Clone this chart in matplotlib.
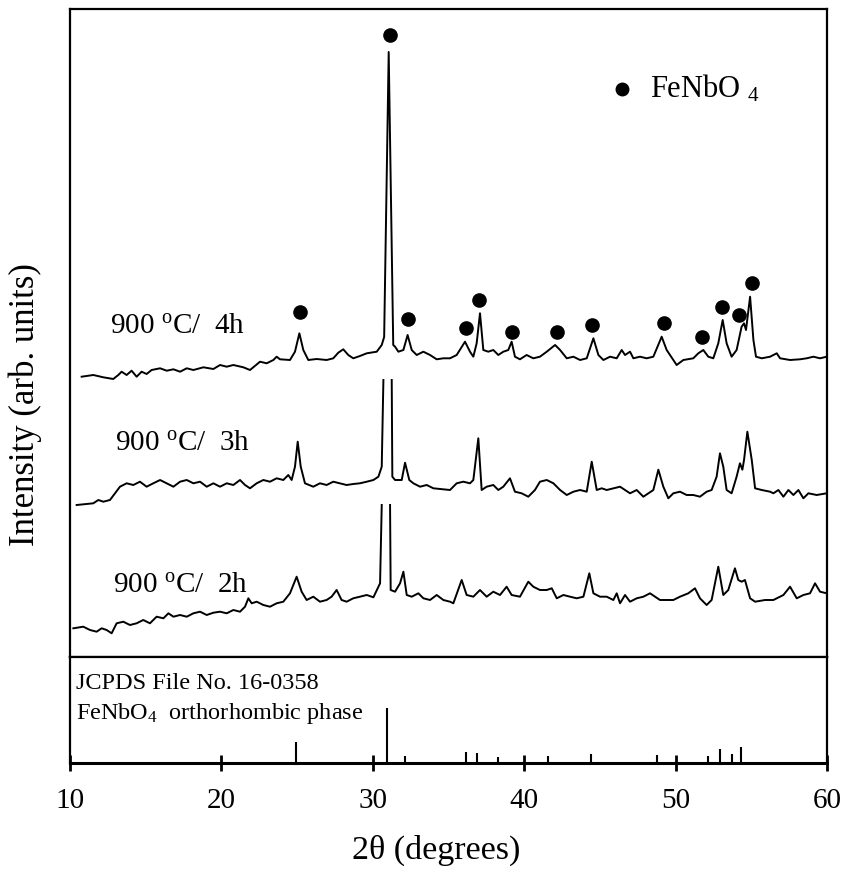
import numpy as np
import matplotlib
matplotlib.use("Agg")
import matplotlib.pyplot as plt

plt.rcParams['font.family'] = ['Liberation Serif', 'DejaVu Serif']
plt.rcParams['mathtext.fontset'] = 'custom'
plt.rcParams['mathtext.rm'] = 'Liberation Serif'
plt.rcParams['mathtext.it'] = 'Liberation Serif:italic'

nan = np.nan

# 900 C / 4h
theta_4h = [10.77, 11.54, 12.2, 12.86, 13.19, 13.41, 13.74, 14.07, 14.4, 14.73, 15.06, 15.39,
            15.95, 16.39, 16.83, 17.27, 17.71, 18.15, 18.81, 19.47, 19.91, 20.35, 20.79, 21.45,
            21.89, 22.55, 22.99, 23.43, 23.65, 23.87, 24.53, 24.86, 25.15, 25.41, 25.74, 26.29,
            26.95, 27.39, 27.72, 28.05, 28.38, 28.71, 29.15, 29.6, 30.26, 30.59, 30.75, 31.05,
            31.35, 31.47, 31.69, 32.02, 32.3, 32.57, 32.9, 33.34, 33.78, 34.22, 34.66, 35.1,
            35.54, 36.09, 36.42, 36.64, 36.86, 37.08, 37.3, 37.63, 37.96, 38.29, 38.62, 38.95,
            39.17, 39.39, 39.72, 40.16, 40.6, 41.04, 41.49, 42.04, 42.37, 42.81, 43.25, 43.69,
            44.13, 44.57, 44.9, 45.23, 45.67, 46.11, 46.44, 46.66, 46.99, 47.21, 47.65, 48.09,
            48.53, 49.08, 49.41, 49.85, 50.07, 50.51, 51.17, 51.5, 51.83, 52.16, 52.49, 52.82,
            53.11, 53.37, 53.7, 54.03, 54.36, 54.52, 54.65, 54.92, 55.14, 55.31, 55.69, 56.24,
            56.68, 56.9, 57.56, 58.22, 58.66, 59.1, 59.54, 59.98]
int_4h = [280.3, 282, 279.7, 278, 282, 285.3, 282, 286.3, 280.3, 285.3, 283, 287,
          288.7, 286.3, 287.7, 285.3, 288.7, 287, 289.7, 288, 292, 290.3, 292, 289.7,
          287, 295.3, 293.7, 297, 300.3, 297.7, 297, 305.3, 323.7, 307, 297, 298,
          297, 298.7, 304.3, 307.7, 302, 298.7, 301, 303.7, 305.3, 312, 320, 605,
          312, 310.3, 305.3, 307, 322, 307, 302, 305.3, 302, 297.7, 298.7, 298.7,
          302, 315.3, 305.3, 300.3, 313.7, 343.7, 307, 305.3, 307, 302, 305.3, 307,
          315.3, 300.3, 297.7, 302, 298.7, 300.3, 305.3, 312, 307, 298.7, 300.3, 297,
          298.7, 318.7, 302, 297, 300.3, 298.7, 307, 302, 305.3, 298.7, 300.3, 298.7,
          300.3, 320.3, 307, 297, 292, 297, 298.7, 303.7, 307, 300.3, 298.7, 313.7,
          337, 313.7, 300.3, 307, 330.3, 333.7, 327, 360.3, 317, 300.3, 298.7, 300.3,
          303.7, 298.7, 297, 297.7, 298.7, 300.3, 298.7, 300.3]

# 900 C / 3h (main peak truncated)
theta_3h = [10.44, 11.54, 11.87, 12.2, 12.64, 12.97, 13.3, 13.74, 14.18, 14.62, 15.06, 15.5,
            15.95, 16.39, 16.83, 17.27, 17.71, 18.15, 18.59, 19.03, 19.47, 19.91, 20.35, 20.79,
            21.23, 21.56, 21.89, 22.33, 22.77, 23.21, 23.65, 24.09, 24.42, 24.64, 24.86, 25.04,
            25.24, 25.52, 26.07, 26.51, 26.95, 27.39, 27.83, 28.27, 28.71, 29.15, 29.6, 30.04,
            30.37, 30.59, 30.7, 31.0, 31.25, 31.29, 31.47, 31.91, 32.13, 32.41, 32.68, 33.12,
            33.56, 34.0, 34.44, 35.1, 35.54, 35.98, 36.42, 36.64, 36.97, 37.19, 37.52, 37.96,
            38.29, 38.62, 39.06, 39.39, 39.83, 40.27, 40.71, 41.04, 41.49, 41.93, 42.37, 42.81,
            43.25, 43.69, 44.13, 44.46, 44.79, 45.12, 45.45, 45.89, 46.33, 46.66, 46.99, 47.43,
            47.87, 48.53, 48.86, 49.19, 49.52, 49.85, 50.29, 50.73, 51.17, 51.61, 52.05, 52.38,
            52.71, 52.93, 53.15, 53.37, 53.7, 54.03, 54.25, 54.41, 54.52, 54.74, 55.03, 55.25,
            55.69, 56.24, 56.46, 56.79, 57.12, 57.45, 57.78, 58.11, 58.44, 58.77, 59.32, 59.98]
int_3h = [152, 153.7, 157, 155.3, 157, 163.7, 170.3, 173.7, 172, 175.3, 170.3, 173.7,
          177, 173.7, 170.3, 175.3, 177, 173.7, 175.3, 170.3, 173.7, 170.3, 173.7, 172,
          177, 172, 168.7, 173.7, 177, 175.3, 178.7, 177, 182, 177, 190.3, 215.3,
          190.3, 173.7, 170.3, 173.7, 172, 175.3, 173.7, 172, 173, 173.7, 175.3, 177,
          180.3, 190.3, 277, nan, 277, 180.3, 177, 177, 194.3, 177, 173.7, 170.3,
          172, 168.7, 168, 167, 173.7, 175.3, 173.7, 177, 218.7, 167, 170.3, 172,
          167, 170.3, 178.7, 165.3, 163.7, 160.3, 167, 175.3, 177, 173.7, 167, 162,
          165.3, 167, 165.3, 195.3, 167, 168.7, 167, 168.7, 170.3, 167, 163.7, 167,
          160.3, 167, 187.3, 170.3, 158.7, 163.7, 165.3, 162, 162, 160.3, 165.3, 167,
          180.3, 203.7, 190.3, 167, 163.7, 180.3, 193.7, 187.3, 197, 225.3, 197, 168.7,
          167, 165.3, 163.7, 167, 160.3, 167, 162, 167, 158.7, 163.7, 162, 163.7]

# 900 C / 2h (main peak truncated)
theta_2h = [10.22, 10.88, 11.32, 11.76, 12.09, 12.42, 12.75, 13.08, 13.52, 13.96, 14.4, 14.84,
            15.28, 15.72, 16.17, 16.5, 16.83, 17.27, 17.71, 18.15, 18.59, 19.03, 19.47, 19.91,
            20.35, 20.79, 21.23, 21.56, 21.78, 22.0, 22.33, 22.77, 23.21, 23.65, 24.09, 24.53,
            24.97, 25.3, 25.63, 26.07, 26.51, 26.95, 27.28, 27.61, 27.94, 28.27, 28.71, 29.15,
            29.6, 30.04, 30.48, 30.59, 30.9, 31.14, 31.18, 31.47, 31.8, 32.02, 32.24, 32.57,
            33.01, 33.34, 33.78, 34.22, 34.66, 35.1, 35.32, 35.87, 36.2, 36.64, 37.08, 37.52,
            37.96, 38.4, 38.84, 39.17, 39.72, 40.27, 40.6, 41.04, 41.49, 41.82, 42.15, 42.59,
            43.03, 43.47, 43.91, 44.3, 44.57, 45.01, 45.45, 45.89, 46.11, 46.33, 46.66, 46.99,
            47.43, 47.87, 48.31, 48.97, 49.85, 50.29, 50.84, 51.28, 51.61, 52.05, 52.38, 52.82,
            53.15, 53.48, 53.92, 54.14, 54.36, 54.58, 54.92, 55.25, 55.91, 56.46, 57.12, 57.56,
            58.0, 58.44, 58.88, 59.21, 59.54, 59.98]
int_2h = [28.7, 30.3, 27, 25.3, 28.7, 27, 23.7, 33.7, 35.3, 32, 33.7, 37,
          33.7, 40.3, 38.7, 43.7, 40.3, 42, 40.3, 43.7, 45.3, 42, 44.3, 45.3,
          43.7, 47, 45.3, 50.3, 58.7, 53.7, 55.3, 52, 50.3, 53.7, 55.3, 63.7,
          80.3, 65.3, 57, 60.3, 55.3, 57, 60.3, 67, 57, 55.3, 58.7, 60.3,
          62, 59.7, 73.7, 152, nan, 152, 67, 65.3, 73.7, 85.3, 62, 60.3,
          63.7, 58.7, 57, 62, 57, 55.3, 53.7, 77, 62, 60.3, 67, 60.3,
          65.3, 62, 70.3, 62, 60.3, 75.3, 70.3, 67, 67, 68.7, 58.7, 62,
          60.3, 58.7, 60.3, 83.7, 63.7, 60.3, 60.3, 57, 63.7, 53.7, 62, 55.3,
          58.7, 60.3, 63.7, 57, 57, 60.3, 63.7, 68.7, 58.7, 52, 57, 90.3,
          62, 67, 88.7, 77, 75.3, 77, 58.7, 55.3, 57, 57, 62, 70.3,
          58.7, 62, 63.7, 73.7, 65.3, 63.7]

# FeNbO4 peak markers on the 4h pattern
mark_theta = [25.19, 31.14, 32.35, 36.16, 37.04, 39.17, 42.15, 44.46, 49.26, 51.77, 53.04, 54.19, 55.07]
mark_int = [345.3, 622, 337.7, 328.7, 357, 325.3, 325.3, 332, 333.7, 320.3, 350.3, 342, 374.3]

# JCPDS 16-0358 reference lines (relative intensity)
ref_theta = [24.9, 30.97, 32.15, 36.16, 36.87, 38.25, 41.59, 44.39, 48.8, 52.14, 52.95, 53.73, 54.34]
ref_int = [38, 100, 13, 20, 18, 11, 13, 16, 14, 13, 25, 17, 30]

labels = ["900 $^{\\rm o}$C/  4h", "900 $^{\\rm o}$C/  3h", "900 $^{\\rm o}$C/  2h"]
label_pos = [(12.64, 324), (12.97, 207), (12.84, 65)]

W, H = 848, 876
fig = plt.figure(figsize=(W / 100, H / 100), dpi=100)

left, right = 70 / W, 827 / W
ax = fig.add_axes([left, (H - 657) / H, right - left, (657 - 9) / H])
axr = fig.add_axes([left, (H - 763) / H, right - left, 106 / H])

lw = 1.4
ax.plot(theta_4h, int_4h, color='black', lw=lw)
ax.plot(theta_3h, int_3h, color='black', lw=lw)
ax.plot(theta_2h, int_2h, color='black', lw=lw)
ax.plot(mark_theta, mark_int, 'o', color='black', ms=9.5, ls='none')

for lab, (x, y) in zip(labels, label_pos):
    ax.text(x, y, lab, fontsize=21, va='baseline', ha='left')

# legend
ax.plot([46.45], [568], 'o', color='black', ms=9)
ax.text(48.3, 568, "FeNbO $_4$", fontsize=22, va='center', ha='left')

ax.set_xlim(10, 60)
ax.set_ylim(0, 648)
ax.set_xticks([])
ax.set_yticks([])
for s in ax.spines.values():
    s.set_linewidth(1.6)

axr.vlines(ref_theta, 0, ref_int, color='black', lw=1.5)
axr.set_xlim(10, 60)
axr.set_ylim(0, 193)
axr.set_yticks([])
axr.set_xticks([10, 20, 30, 40, 50, 60])
axr.tick_params(axis='x', direction='inout', length=12, width=2, labelsize=21, pad=12)
for s in axr.spines.values():
    s.set_linewidth(1.6)
axr.spines['bottom'].set_linewidth(2.2)
axr.text(10.4, 134, "JCPDS File No. 16-0358", fontsize=17.5, va='baseline', ha='left')
axr.text(10.4, 80, "FeNbO$_4$  orthorhombic phase", fontsize=17.5, va='baseline', ha='left')

fig.text(436 / W, (H - 850) / H, "2θ (degrees)", fontsize=24.5, ha='center', va='center')
fig.text(25 / W, (H - 405) / H, "Intensity (arb. units)", fontsize=25, rotation=90,
         ha='center', va='center')

fig.savefig("out.png", dpi=100)
